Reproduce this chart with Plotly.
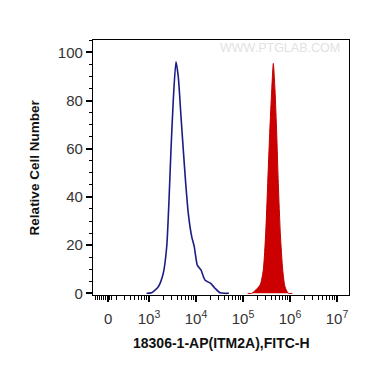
import numpy as np
import plotly.graph_objects as go

# Data (x in log10 fluorescence units, y relative cell number)
blue_x = [2.95, 3.057, 3.198, 3.304, 3.377, 3.426, 3.468, 3.517, 3.574, 3.623, 3.681, 3.730,
          3.781, 3.836, 3.909, 3.964, 4.028, 4.106, 4.191, 4.313, 4.404, 4.511, 4.617, 4.70]
blue_y = [0, 0.2, 2.7, 8.3, 19.3, 38.7, 59.5, 80.2, 96.1, 89.9, 73.3, 59.5,
          45.6, 33.2, 23.5, 19.3, 11.7, 9.7, 5.5, 4.1, 2.1, 0.2, 0, 0]

red_x = [5.10, 5.185, 5.362, 5.432, 5.483, 5.526, 5.568, 5.611, 5.645, 5.681, 5.717,
         5.751, 5.794, 5.845, 5.894, 5.964, 6.05]
red_y = [0, 0, 3.4, 9.7, 24.9, 45.6, 66.4, 84.4, 95.4, 84.4, 66.4,
         45.6, 24.9, 9.7, 2.7, 0, 0]

x_tickvals = [2.13, 3, 4, 5, 6, 7]
x_ticktext = ["0", "10<sup>3</sup>", "10<sup>4</sup>", "10<sup>5</sup>", "10<sup>6</sup>", "10<sup>7</sup>"]
y_tickvals = [0, 20, 40, 60, 80, 100]

FONT = "Liberation Sans, Arial, sans-serif"

# minor tick positions
minor = []
for d in [2, 3, 4, 5, 6]:
    for k in range(2, 10):
        v = d + np.log10(k)
        if v > 2.2:
            minor.append(v)
minor += [1.87, 1.91, 1.95, 1.99, 2.03, 2.07, 2.17, 2.21]

fig = go.Figure()
fig.add_trace(go.Scatter(x=blue_x, y=blue_y, mode="lines",
                         line=dict(color="#1c1c86", width=1.6, shape="spline", smoothing=0.6),
                         hoverinfo="skip"))
fig.add_trace(go.Scatter(x=red_x, y=red_y, mode="lines", fill="tozeroy",
                         fillcolor="#cc0000",
                         line=dict(color="#c00000", width=1, shape="spline", smoothing=0.6),
                         hoverinfo="skip"))

fig.update_layout(
    width=362, height=359,
    margin=dict(l=85, r=21, t=32, b=72),
    paper_bgcolor="white", plot_bgcolor="white",
    showlegend=False,
    font=dict(family=FONT, color="#222222"),
    xaxis=dict(range=[1.809, 7.255], tickmode="array", tickvals=x_tickvals, ticktext=x_ticktext,
               ticks="outside", ticklen=6, tickwidth=1.5, tickcolor="black",
               ticklabelstandoff=4,
               minor=dict(tickmode="array", tickvals=minor, ticks="outside", ticklen=4,
                          tickwidth=1, tickcolor="black"),
               showline=True, linecolor="black", linewidth=1.2, mirror=True,
               showgrid=False, zeroline=False,
               tickfont=dict(size=15, color="#333333", family=FONT)),
    yaxis=dict(range=[-0.7, 105.1], tickmode="array", tickvals=y_tickvals,
               ticks="outside", ticklen=6, tickwidth=1.5, tickcolor="black",
               minor=dict(dtick=5, tick0=0, ticks="outside", ticklen=3, tickwidth=1, tickcolor="black"),
               showline=True, linecolor="black", linewidth=1.2, mirror=True,
               showgrid=False, zeroline=False,
               tickfont=dict(size=15, color="#333333", family=FONT)),
    annotations=[
        dict(text="<b>Relative Cell Number</b>", x=-0.227, y=0.5, xref="paper", yref="paper",
             textangle=-90, showarrow=False, xanchor="center", yanchor="middle",
             font=dict(size=13.5, color="#111111", family=FONT)),
        dict(text="<b>18306-1-AP(ITM2A),FITC-H</b>", x=0.5, y=-0.188, xref="paper", yref="paper",
             showarrow=False, xanchor="center", yanchor="middle",
             font=dict(size=14, color="#111111", family=FONT)),
        dict(text="WWW.PTGLAB.COM", x=0.73, y=0.968, xref="paper", yref="paper",
             showarrow=False, xanchor="center", yanchor="middle",
             font=dict(size=12.5, color="#e2e2e2", family=FONT)),
    ],
)

fig.write_html("out.html")
